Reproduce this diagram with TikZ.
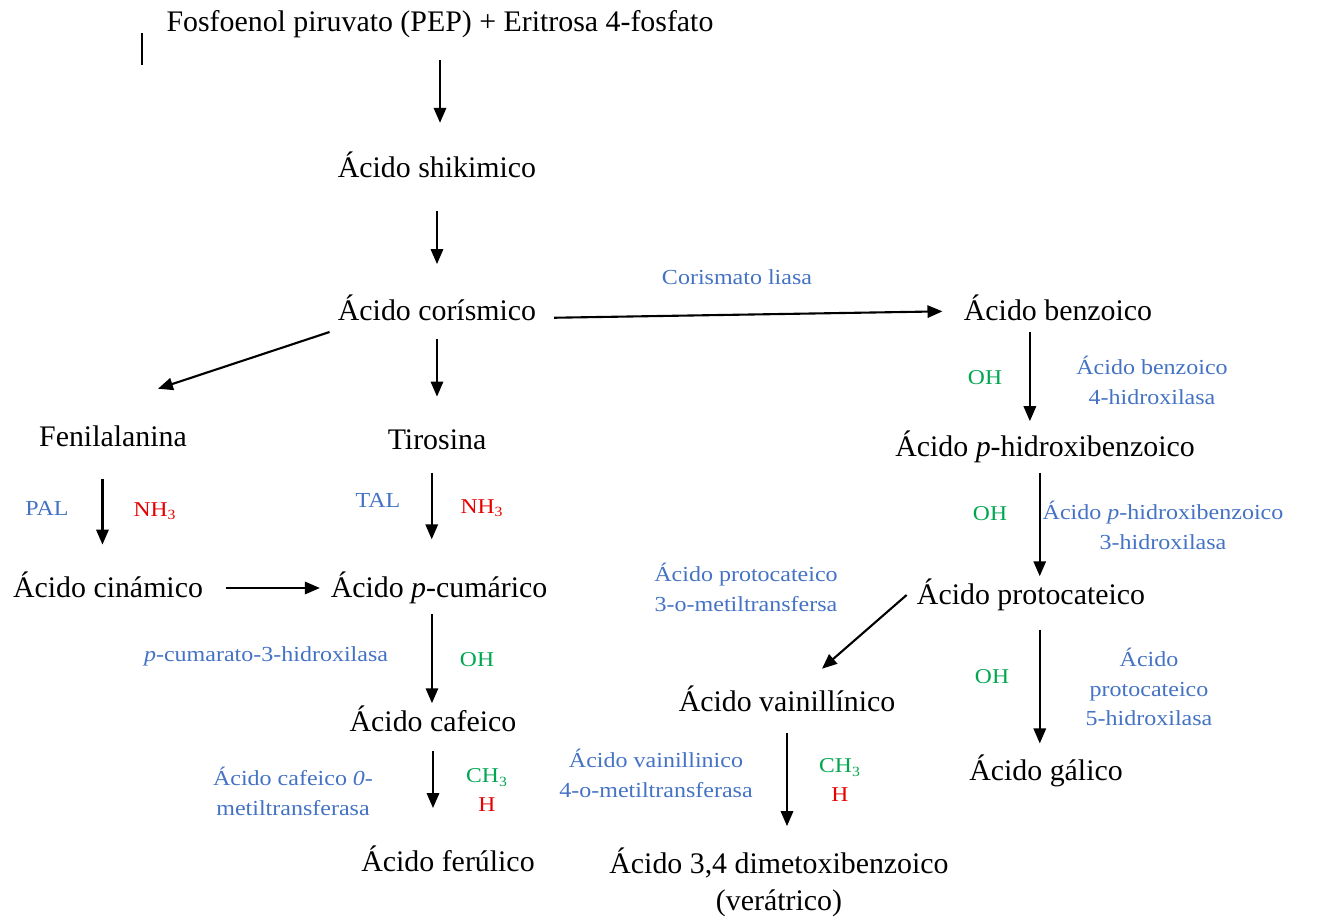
\documentclass[tikz,border=0pt]{standalone}
\usepackage{fontspec}
\setmainfont{Liberation Serif}
\newfontfamily\slimfont[FakeStretch=1.12]{Liberation Serif}
\usepackage{xcolor}
\usetikzlibrary{arrows.meta,calc}
\definecolor{enzblue}{RGB}{68,114,196}
\definecolor{grpgreen}{RGB}{0,166,80}
\definecolor{grpred}{RGB}{230,0,0}

\begin{document}
\begin{tikzpicture}[x=0.02cm,y=-0.02cm, % one unit = one pixel of the sketch
        chem/.style={font=\fontsize{17}{21}\selectfont, inner sep=0pt, text height=14pt, text depth=3pt},
        enz/.style={font=\slimfont\fontsize{12.2}{17}\selectfont, text=enzblue, align=center, inner sep=0pt},
        grp/.style={font=\slimfont\fontsize{12}{16}\selectfont, align=center, inner sep=0pt},
        arr/.style={line width=1.2pt, -{Triangle[width=7pt,length=8.5pt]}},
        gap/.style 2 args={shorten <=#1pt, shorten >=#2pt}]
        \useasboundingbox (0,0) rectangle (1336,917);

        % compounds
        \node[chem] (pep) at (440,22) {Fosfoenol piruvato (PEP) + Eritrosa 4-fosfato};
        \node[chem] (shi) at (437,168) {Ácido shikimico};
        \node[chem] (cor) at (437,311) {Ácido corísmico};
        \node[chem] (ben) at (1058,311) {Ácido benzoico};
        \node[chem] (fen) at (113,437) {Fenilalanina};
        \node[chem] (tir) at (437,440) {Tirosina};
        \node[chem] (cin) at (108,588) {Ácido cinámico};
        \node[chem] (cum) at (439,588) {Ácido \textit{p}-cumárico};
        \node[chem] (caf) at (433,722) {Ácido cafeico};
        \node[chem] (fer) at (448,862) {Ácido ferúlico};
        \node[chem] (phb) at (1045,447) {Ácido \textit{p}-hidroxibenzoico};
        \node[chem] (pro) at (1031,595) {Ácido protocateico};
        \node[chem] (vai) at (787,702) {Ácido vainillínico};
        \node[chem] (gal) at (1046,771) {Ácido gálico};
        \node[font=\fontsize{17}{21}\selectfont, inner sep=0pt, align=center] (dim) at (779,882)
            {Ácido 3,4 dimetoxibenzoico\\(verátrico)};

        % enzymes (blue) and groups (green / red)
        \node[enz] (cl) at (737,277) {Corismato liasa};
        \node[enz] (pal) at (47,508) {PAL};
        \node[grp, text=grpred] (nh1) at (155,511) {NH\textsubscript{3}};
        \node[enz] (tal) at (378,500) {TAL};
        \node[grp, text=grpred] (nh2) at (482,508) {NH\textsubscript{3}};
        \node[enz] (c3h) at (266,656) {\textit{p}-cumarato-3-hidroxilasa};
        \node[grp, text=grpgreen] (oh1) at (477,660) {OH};
        \node[enz] (comt) at (293,791) {Ácido cafeico \textit{0-}\\metiltransferasa};
        \node[grp] (me1) at (487,790) {\textcolor{grpgreen}{CH\textsubscript{3}}\\\textcolor{grpred}{H}};
        \node[enz] (b4h) at (1152,380) {Ácido benzoico\\4-hidroxilasa};
        \node[grp, text=grpgreen] (oh2) at (985,378) {OH};
        \node[enz] (p3h) at (1163,525) {Ácido \textit{p}-hidroxibenzoico\\3-hidroxilasa};
        \node[grp, text=grpgreen] (oh3) at (990,514) {OH};
        \node[enz] (pomt) at (746,587) {Ácido protocateico\\3-o-metiltransfersa};
        \node[enz] (p5h) at (1149,687) {Ácido\\protocateico\\5-hidroxilasa};
        \node[grp, text=grpgreen] (oh4) at (992,677) {OH};
        \node[enz] (vomt) at (656,773) {Ácido vainillinico\\4-o-metiltransferasa};
        \node[grp] (me2) at (840,780) {\textcolor{grpgreen}{CH\textsubscript{3}}\\\textcolor{grpred}{H}};

        % reactions
        \draw[arr, gap={13}{17}] (pep.south) -- (pep.south |- shi.north);
        \draw[arr, gap={16}{18}] (shi.south) -- (shi.south |- cor.north);
        \draw[arr, gap={7}{16}] (cor.south) -- (cor.south |- tir.north);
        \draw[arr] ([shift={(-8,21)}]cor.west) -- ([shift={(45,-33)}]fen.north);
        \draw[arr, gap={10}{12}] ([yshift=-4pt]cor.east) -- (ben.west);
        \draw[arr, gap={15}{16}] ([xshift=-6pt]fen.south) -- ([xshift=-6pt]fen.south |- cin.north);
        \draw[arr, gap={10}{19}] ([xshift=-3pt]tir.south) -- ([xshift=-3pt]tir.south |- cum.north);
        \draw[arr, gap={13}{6}] (cin.east) -- (cin.east -| cum.west);
        \draw[arr, gap={6}{2}] ([xshift=-4pt]cum.south) -- ([xshift=-4pt]cum.south |- caf.north);
        \draw[arr, gap={8}{22}] (caf.south) -- (caf.south |- fer.north);
        \draw[arr, gap={3}{6}] ([xshift=-16pt]ben.south) -- ([xshift=-16pt]ben.south |- phb.north);
        \draw[arr, gap={6}{2}] ([xshift=-3pt]phb.south) -- ([xshift=-3pt]phb.south |- pro.north);
        \draw[arr] ([shift={(-10,0)}]pro.west) -- ([shift={(35,-18)}]vai.north);
        \draw[arr, gap={11}{7}] ([xshift=5pt]pro.south) -- ([xshift=5pt]pro.south |- gal.north);
        \draw[arr, gap={9}{12}] (vai.south) -- (vai.south |- dim.north);

        % stray mark at the top left
        \draw[line width=1pt] (142,33) -- (142,65);
\end{tikzpicture}
\end{document}
